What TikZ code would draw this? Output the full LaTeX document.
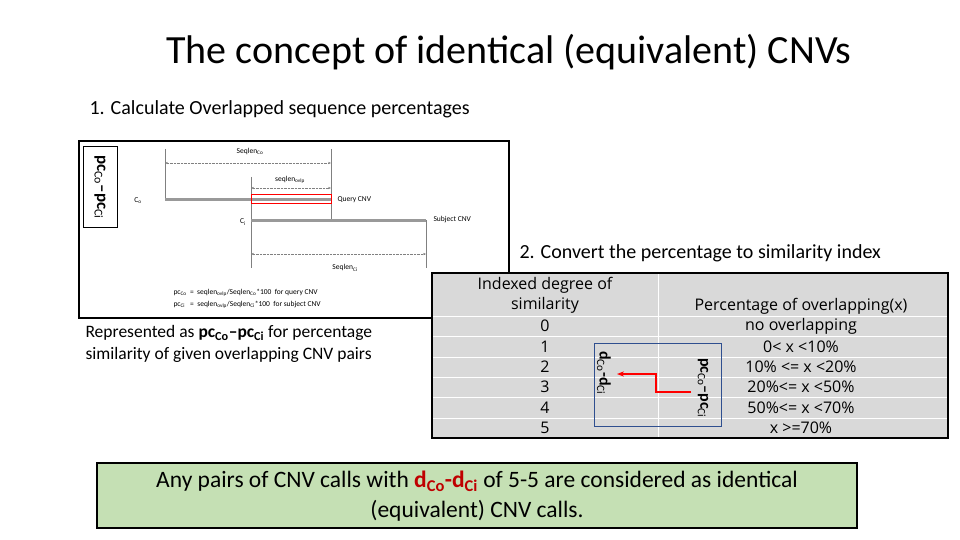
\documentclass[tikz,border=0pt]{standalone}
\usepackage{fontspec}
\setmainfont{Carlito}
\newfontfamily\tblfont{Open Sans}
\usetikzlibrary{arrows.meta}
\definecolor{tbl}{HTML}{D9D9D9}
\definecolor{grn}{HTML}{C5E0B4}
\definecolor{bluebox}{HTML}{2F4F8F}
\begin{document}
\begin{tikzpicture}[x=1pt,y=-1pt,
  bar/.style={line width=3pt,gray!80},
  vln/.style={gray,line width=0.8pt},
  dim/.style={densely dotted,gray,{Stealth[length=3pt]}-{Stealth[length=3pt]}},
  small/.style={font=\fontsize{7.5}{8}\selectfont},
  rowtxt/.style={font=\tblfont\fontsize{16}{20}\selectfont,inner sep=0pt}]
\useasboundingbox (0,0) rectangle (960,540);
\node (title) at (509,52) {\fontsize{40}{44}\selectfont The concept of identical (equivalent) CNVs};
\node[anchor=west] (s1) at (86,109) {\fontsize{20}{23}\selectfont 1. Calculate Overlapped sequence percentages};
% left box
\draw[line width=1.5pt] (79,141) rectangle (509,318);
\node[draw,line width=1pt,minimum width=34pt,minimum height=81pt] (lab) at (100,187) {};
\node[rotate=-90,font=\bfseries\fontsize{17}{18}\selectfont] at (lab) {pc$_{\mathrm{Co}}$--pc$_{\mathrm{Ci}}$};
\coordinate (a1) at (165,149); \coordinate (a2) at (165,199);
\coordinate (b1) at (331,149); \coordinate (b2) at (331,220);
\coordinate (c1) at (251,177); \coordinate (c2) at (251,268);
\coordinate (d1) at (426,220); \coordinate (d2) at (426,268);
\draw[vln] (a1)--(a2); \draw[vln] (b1)--(b2); \draw[vln] (c1)--(c2); \draw[vln] (d1)--(d2);
\draw[dim] (165,163)--(331,163);
\draw[dim] (251,188)--(331,188);
\draw[dim] (251,254)--(426,254);
\draw[bar] (165,199)--(331,199);
\draw[bar] (251,220)--(426,220);
\draw[red,line width=0.8pt] (251,194) rectangle (331,203);
\node[small] at (250,152) {Seqlen$_{\mathrm{Co}}$};
\node[small] at (290,180) {seqlen$_{\mathrm{ovlp}}$};
\node[small] at (138,201) {C$_{\mathrm o}$};
\node[small] at (243,222) {C$_{\mathrm i}$};
\node[small,anchor=west] at (334,200) {Query CNV};
\node[small,anchor=west] at (430,220) {Subject CNV};
\node[small] at (345,268) {Seqlen$_{\mathrm{Ci}}$};
\node[small,anchor=west] at (170,293) {pc$_{\mathrm{Co}}$\ \ =\ \ seqlen$_{\mathrm{ovlp}}$/Seqlen$_{\mathrm{Co}}$*100\ \ for query CNV};
\node[small,anchor=west] at (170,305) {pc$_{\mathrm{Ci}}$\ \ \ =\ \ seqlen$_{\mathrm{ovlp}}$/Seqlen$_{\mathrm{Ci}}$*100\ \ for subject CNV};
\node[anchor=north west,align=left,font=\fontsize{17.5}{22}\selectfont] at (82,322)
 {Represented as \textbf{pc$_{\mathbf{Co}}$--pc$_{\mathbf{Ci}}$} for percentage\\similarity of given overlapping CNV pairs};
\node[anchor=west] (s2) at (516,253) {\fontsize{20}{23}\selectfont 2. Convert the percentage to similarity index};
% table
\fill[tbl] (432,273) rectangle (948,438);
\foreach \y in {316,336,357,377,397,418} \draw[white,line width=1pt] (432,\y)--(948,\y);
\draw[white,line width=1pt] (658,273)--(658,438);
\draw[line width=1.5pt] (432,273) rectangle (948,438);
\node[rowtxt,align=center] at (545,295) {Indexed degree of\\similarity};
\node[rowtxt] at (801,306) {Percentage of overlapping(x)};
\foreach \v/\p/\y in {0/no overlapping/326,1/0< x <10\%/347,2/10\% <= x <20\%/367,3/20\%<= x <50\%/387,4/50\%<= x <70\%/408,5/x >=70\%/428}{
  \node[rowtxt] at (545,\y) {\v};
  \node[rowtxt] at (801,\y) {\p};}
\draw[bluebox,line width=1pt] (594,343) rectangle (721,426);
\node[rotate=-90,font=\bfseries\fontsize{16}{17}\selectfont] (dd) at (604,373) {d$_{\mathrm{Co}}$-d$_{\mathrm{Ci}}$};
\node[rotate=-90,font=\bfseries\fontsize{16}{17}\selectfont] (pp) at (703,388) {pc$_{\mathrm{Co}}$--pc$_{\mathrm{Ci}}$};
\draw[red,line width=2pt,-{Stealth[length=7pt]}] (691,392)--(656,392)--(656,374)--(617,374);
% bottom
\draw[fill=grn,line width=2pt] (97,463) rectangle (857,528);
\node[align=center,font=\fontsize{23.5}{30}\selectfont] at (477,496)
 {Any pairs of CNV calls with \textcolor{red!75!black}{\textbf{d$_{\mathbf{Co}}$-d$_{\mathbf{Ci}}$}} of 5-5 are considered as identical\\(equivalent) CNV calls.};
\end{tikzpicture}
\end{document}
